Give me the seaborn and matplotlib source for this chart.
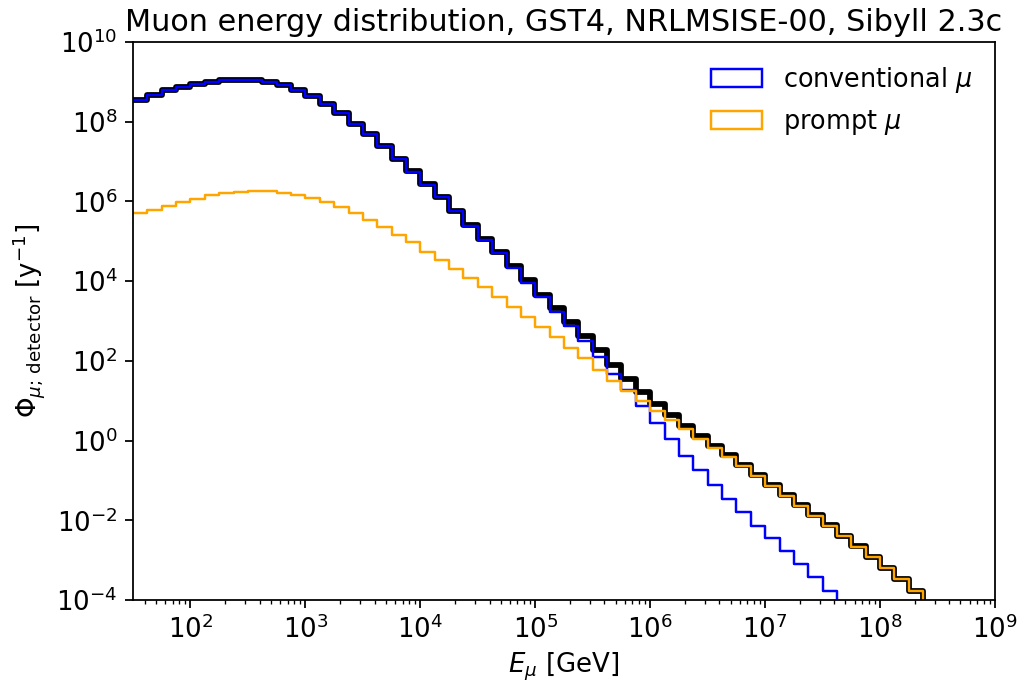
import numpy as np
import matplotlib
matplotlib.use("Agg")
import matplotlib.pyplot as plt
import seaborn as sns
from matplotlib.patches import Patch
from matplotlib.ticker import FixedLocator, NullLocator, LogFormatterSciNotation

# Binning: log10(E/GeV) from 1.5 to 9.0, 8 bins per decade
log_e_lo, log_e_hi, n_bins = 1.5, 9.0, 60

# log10 of flux per bin [1/y]
conv_log10 = [
    8.55, 8.68, 8.79, 8.88, 8.95, 9.00, 9.04, 9.05, 9.04, 9.00,
    8.92, 8.80, 8.64, 8.45, 8.21, 7.95, 7.68, 7.38, 7.06, 6.75,
    6.42, 6.10, 5.75, 5.39, 5.04, 4.70, 4.33, 3.96, 3.59, 3.22,
    2.87, 2.50, 2.10, 1.67, 1.26, 0.86, 0.43, 0.03, -0.39, -0.75,
    -1.12, -1.47, -1.80, -2.14, -2.45, -2.77, -3.10, -3.43, -3.77, -4.10,
    -4.44, -4.78, -5.12, -5.46, -5.80, -6.14, -6.48, -6.82, -7.16, -7.50,
]
prompt_log10 = [
    5.70, 5.79, 5.89, 5.99, 6.07, 6.15, 6.21, 6.24, 6.26, 6.25,
    6.22, 6.17, 6.08, 5.98, 5.86, 5.70, 5.53, 5.35, 5.16, 4.97,
    4.74, 4.53, 4.30, 4.07, 3.85, 3.60, 3.36, 3.11, 2.86, 2.61,
    2.33, 2.06, 1.77, 1.49, 1.24, 0.99, 0.74, 0.52, 0.29, 0.05,
    -0.18, -0.41, -0.65, -0.88, -1.13, -1.38, -1.63, -1.88, -2.14, -2.40,
    -2.66, -2.93, -3.20, -3.48, -3.78, -4.08, -4.38, -4.68, -4.98, -5.28,
]

labels = [r"conventional $\mu$", r"prompt $\mu$"]
colors = ["blue", "orange"]

log_edges = np.linspace(log_e_lo, log_e_hi, n_bins + 1)
centers = 10 ** ((log_edges[:-1] + log_edges[1:]) / 2)
conv = 10 ** np.array(conv_log10)
prompt = 10 ** np.array(prompt_log10)
total = conv + prompt

fig = plt.figure(figsize=(1021 / 160, 689 / 160), dpi=160)
ax = fig.add_axes([133 / 1021, 89 / 689, (995 - 133) / 1021, (600 - 42) / 689])

common = dict(bins=n_bins, binrange=(log_e_lo, log_e_hi), element="step",
              fill=False, log_scale=(True, False), ax=ax)
sns.histplot(x=centers, weights=total, color="black", linewidth=2.6, **common)
sns.histplot(x=centers, weights=conv, color=colors[0], linewidth=1.1, **common)
sns.histplot(x=centers, weights=prompt, color=colors[1], linewidth=1.1, **common)

ax.set_yscale("log")
ax.set_xlim(10 ** log_e_lo, 10 ** log_e_hi)
ax.set_ylim(1e-4, 1e10)
ax.yaxis.set_major_locator(FixedLocator(10.0 ** np.arange(-4, 11, 2)))
ax.yaxis.set_major_formatter(LogFormatterSciNotation())
ax.yaxis.set_minor_locator(NullLocator())

ax.set_xlabel(r"$E_\mu$ [GeV]", fontsize=11.7, labelpad=3)
ax.set_ylabel(r"$\Phi_{\mu;\,\mathrm{detector}}$ [y$^{-1}$]", fontsize=11.7)
ax.set_title("Muon energy distribution, GST4, NRLMSISE-00, Sibyll 2.3c",
             fontsize=13.6, pad=5)
ax.tick_params(labelsize=11.7)

handles = [Patch(facecolor="none", edgecolor=c, linewidth=1.1) for c in colors]
ax.legend(handles, labels, loc="upper right", frameon=False, fontsize=11.5)

fig.savefig("out.png", dpi=160)
